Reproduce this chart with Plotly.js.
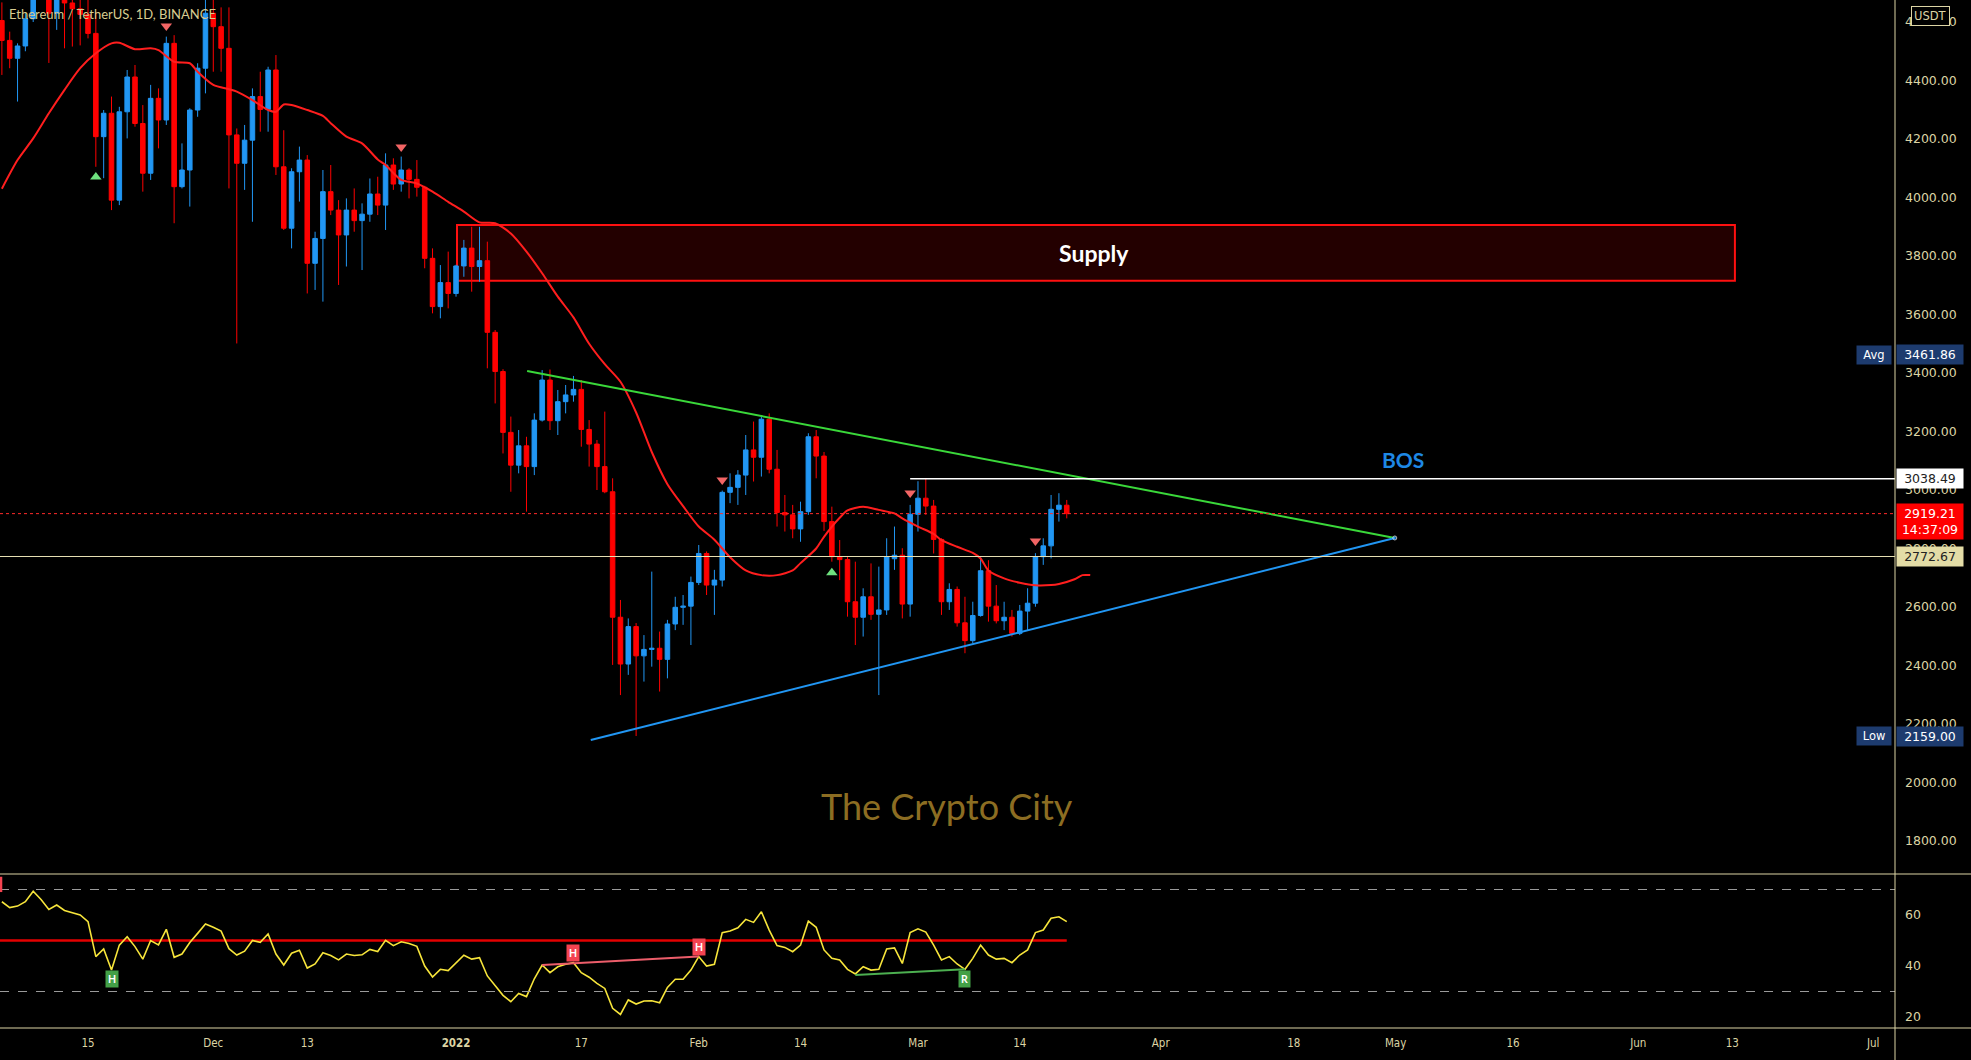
<!DOCTYPE html>
<html>
<head>
<meta charset="utf-8">
<script src="https://cdn.plot.ly/plotly-3.0.1.min.js"></script>
<style>
  html, body { margin: 0; padding: 0; background: #000; }
  #chart { width: 1971px; height: 1060px; }
</style>
</head>
<body>
<div id="chart"></div>
<script>
// ETH/USDT 日足（2021-11-04 〜 2022-03-20）
const firstDay = '2021-11-04';

const opens = [
  4605, 4537, 4476, 4518, 4611, 4807, 4730, 4630, 4723, 4665, 4645, 4626, 4561, 4208, 4288, 3991, 4293, 4412, 4253, 4083, 4339, 4265, 4527, 4037, 4094, 4299, 4442,
  4630, 4584, 4510, 4214, 4117, 4196, 4345, 4301, 4436, 4105, 3895, 4088, 4128, 3775, 3860, 4020, 3957, 3872, 3957, 3921, 3943, 4012, 3974, 4111, 4046, 4094, 4062, 4035, 3792, 3627, 3709,
  3672, 3766, 3827, 3764, 3784, 3539, 3405, 3197, 3085, 3151, 3080, 3239, 3376, 3237, 3302, 3325, 3344, 3207, 3157, 3080, 2994, 2565, 2405, 2533, 2433, 2455, 2459, 2421, 2542, 2599, 2603,
  2684, 2783, 2675, 2692, 2992, 3009, 3051, 3137, 3112, 3242, 3071, 2923, 2915, 2867, 2926, 3182, 3116, 2892, 2772, 2762, 2618, 2565, 2635, 2575, 2590, 2765, 2777, 2610,
  2917, 2972, 2945, 2831, 2618, 2660, 2546, 2485, 2571, 2724, 2603, 2553, 2565, 2510, 2586, 2613, 2772, 2809, 2934, 2948
];
const highs = [
  4667, 4567, 4527, 4630, 4823, 4838, 4868, 4778, 4811, 4704, 4690, 4772, 4633, 4299, 4345, 4310, 4436, 4453, 4316, 4385, 4373, 4550, 4555, 4185, 4305, 4459, 4778,
  4780, 4650, 4650, 4236, 4248, 4373, 4430, 4447, 4487, 4230, 4100, 4174, 4145, 3883, 4094, 4111, 3991, 3997, 4031, 3980, 4065, 4071, 4151, 4134, 4140, 4100, 4128, 4040, 3826, 3769, 3815,
  3770, 3855, 3900, 3900, 3849, 3547, 3413, 3251, 3205, 3182, 3262, 3410, 3412, 3342, 3359, 3390, 3376, 3239, 3171, 3268, 3040, 2624, 2561, 2545, 2504, 2721, 2516, 2556, 2635, 2641, 2704,
  2812, 2790, 2727, 2998, 3057, 3068, 3188, 3234, 3256, 3262, 3137, 2983, 2949, 2960, 3194, 3205, 3130, 2943, 2829, 2772, 2755, 2664, 2749, 2738, 2835, 2875, 2801, 2949,
  3030, 3038.49, 2966, 2835, 2681, 2670, 2635, 2618, 2772, 2760, 2675, 2618, 2590, 2607, 2664, 2784, 2835, 2983, 2989, 2966
];
const lows = [
  4419, 4442, 4328, 4500, 4600, 4713, 4460, 4573, 4510, 4516, 4520, 4544, 4105, 4066, 3957, 3974, 4202, 4242, 4020, 4060, 4168, 4248, 3912, 4031, 3969, 4276, 4356,
  4430, 4430, 4031, 3501, 4026, 3917, 4225, 4225, 4077, 3889, 3826, 3986, 3672, 3684, 3644, 3940, 3701, 3764, 3883, 3752, 3917, 3940, 3889, 4026, 4020, 3997, 4003, 3758, 3604, 3587, 3621,
  3661, 3729, 3678, 3712, 3416, 3296, 3125, 2994, 3057, 2926, 3051, 3234, 3205, 3188, 3262, 3302, 3148, 3080, 3000, 2989, 2402, 2299, 2368, 2159, 2345, 2396, 2311, 2356, 2521, 2539, 2470,
  2675, 2641, 2573, 2670, 2955, 2949, 2983, 3029, 3046, 3057, 2875, 2858, 2835, 2823, 2915, 3040, 2860, 2755, 2692, 2567, 2470, 2499, 2556, 2299, 2573, 2727, 2561, 2567,
  2858, 2915, 2783, 2573, 2590, 2533, 2442, 2476, 2567, 2550, 2544, 2521, 2499, 2504, 2521, 2601, 2744, 2766, 2892, 2903
];
const closes = [
  4537, 4476, 4518, 4611, 4807, 4730, 4630, 4723, 4665, 4645, 4626, 4561, 4208, 4288, 3991, 4293, 4412, 4253, 4083, 4339, 4265, 4527, 4037, 4094, 4299, 4442, 4630,
  4584, 4510, 4214, 4117, 4196, 4345, 4301, 4436, 4105, 3895, 4088, 4128, 3775, 3860, 4020, 3957, 3872, 3957, 3921, 3943, 4012, 3974, 4111, 4046, 4094, 4062, 4035, 3792, 3627, 3709, 3672,
  3766, 3827, 3764, 3784, 3539, 3405, 3197, 3085, 3151, 3080, 3239, 3376, 3237, 3302, 3325, 3344, 3207, 3157, 3080, 2994, 2565, 2405, 2533, 2433, 2455, 2459, 2421, 2542, 2599, 2603, 2684,
  2783, 2675, 2692, 2992, 3009, 3051, 3137, 3112, 3242, 3071, 2923, 2915, 2867, 2926, 3182, 3116, 2892, 2772, 2762, 2618, 2565, 2635, 2575, 2590, 2772, 2777, 2610, 2917,
  2972, 2945, 2831, 2618, 2660, 2546, 2485, 2571, 2724, 2603, 2553, 2565, 2510, 2586, 2613, 2772, 2809, 2934, 2948, 2919.21
];

// 移動平均線（チャートから読み取り）
const maDates = [
  '2021-11-04', '2021-11-06', '2021-11-08', '2021-11-10', '2021-11-12', '2021-11-14', '2021-11-16', '2021-11-18', '2021-11-19',
  '2021-11-21', '2021-11-23', '2021-11-24', '2021-11-26', '2021-11-28', '2021-11-29', '2021-12-01', '2021-12-03', '2021-12-04',
  '2021-12-06', '2021-12-08', '2021-12-09', '2021-12-10', '2021-12-11', '2021-12-13', '2021-12-15', '2021-12-16', '2021-12-18',
  '2021-12-20', '2021-12-22', '2021-12-23', '2021-12-25', '2021-12-27', '2021-12-29', '2021-12-31', '2022-01-02', '2022-01-04',
  '2022-01-06', '2022-01-08', '2022-01-10', '2022-01-12', '2022-01-14', '2022-01-16', '2022-01-18', '2022-01-20', '2022-01-22',
  '2022-01-24', '2022-01-26', '2022-01-28', '2022-01-30', '2022-02-01', '2022-02-03', '2022-02-05', '2022-02-07', '2022-02-09',
  '2022-02-11', '2022-02-13', '2022-02-14', '2022-02-16', '2022-02-17', '2022-02-19', '2022-02-20', '2022-02-22', '2022-02-24',
  '2022-02-26', '2022-02-27', '2022-03-01', '2022-03-03', '2022-03-04', '2022-03-06', '2022-03-08', '2022-03-09', '2022-03-10',
  '2022-03-12', '2022-03-14', '2022-03-16', '2022-03-18', '2022-03-19', '2022-03-21', '2022-03-22', '2022-03-23'
];
const maValues = [
  4030, 4128, 4202, 4288, 4368, 4442, 4493, 4527, 4529,
  4507, 4510, 4504, 4464, 4459, 4430, 4385, 4370, 4362,
  4333, 4299, 4293, 4318, 4316, 4299, 4279, 4254, 4208,
  4185, 4130, 4111, 4060, 4048, 4020, 3985, 3952, 3915,
  3912, 3877, 3815, 3741, 3661, 3590, 3500, 3430, 3370,
  3265, 3130, 3020, 2945, 2875, 2830, 2770, 2725, 2709,
  2709, 2725, 2750, 2800, 2840, 2905, 2930, 2943, 2932,
  2920, 2903, 2875, 2850, 2829, 2806, 2785, 2766, 2725,
  2698, 2683, 2674, 2675, 2679, 2695, 2709, 2709
];

// RSI（下段）
const rsiValues = [
  65.2, 62.9, 63.5, 65.2, 69.3, 66.1, 62.2, 63.9, 61.8, 60.9, 60.0, 57.4, 43.7, 46.7, 38.4, 48.2, 51.5, 47.6, 42.7, 50.0, 48.3, 54.4, 43.4, 44.7, 49.2, 52.8, 56.5,
  55.2, 53.7, 46.8, 44.3, 45.8, 50.0, 49.3, 52.6, 44.7, 40.4, 45.0, 46.2, 39.2, 40.8, 45.2, 44.1, 42.4, 44.7, 44.1, 44.4, 46.5, 45.7, 50.1, 48.0, 49.5, 48.8, 47.7, 40.0, 35.7, 38.7, 38.2,
  41.4, 44.2, 42.7, 43.3, 36.1, 32.4, 28.5, 26.0, 29.2, 28.0, 35.0, 40.4, 37.4, 39.7, 40.7, 41.3, 37.4, 35.6, 33.2, 31.2, 23.4, 21.0, 26.7, 25.1, 26.3, 26.4, 25.6, 31.6, 34.8, 34.8, 38.4,
  43.7, 40.0, 40.7, 53.1, 53.7, 55.0, 58.3, 57.1, 61.3, 54.1, 48.0, 47.3, 45.6, 48.2, 57.6, 55.2, 46.3, 43.0, 42.4, 38.7, 36.9, 39.7, 38.4, 38.7, 46.7, 47.1, 41.0, 53.1,
  54.6, 53.3, 48.2, 42.4, 43.7, 40.8, 38.7, 43.0, 48.2, 44.3, 42.7, 43.0, 41.3, 44.3, 46.3, 53.1, 54.1, 58.7, 59.3, 57.4
];

// シグナル三角形
const sellSignalDates = ['2021-11-25', '2021-12-25', '2022-02-04', '2022-02-28', '2022-03-16'];
const sellSignalPrices = [4586, 4173, 3034, 2990, 2826];
const buySignalDates = ['2021-11-16', '2022-02-18'];
const buySignalPrices = [4070, 2717];

// 作図（トレンドライン・ゾーン）
const triangleApex = ['2022-04-30 21:30', 2836];
const upperTrend = { dates: ['2022-01-10 02:00', triangleApex[0]], prices: [3407, triangleApex[1]] };
const lowerTrend = { dates: ['2022-01-18 05:00', triangleApex[0]], prices: [2145, triangleApex[1]] };
const supplyZone = { from: '2022-01-01 03:00', to: '2022-06-13 08:00', low: 3715, high: 3906 };
const bosLevel = { from: '2022-02-28', price: 3038.49 };
const lastPrice = 2919.21;
const avgPrice = 3461.86;
const lowPrice = 2159.00;
const hLinePrice = 2772.67;

// RSI ダイバージェンス
const bearDiv = { dates: ['2022-01-12', '2022-02-01'], values: [40.4, 43.7] };
const bullDiv = { dates: ['2022-02-21', '2022-03-07'], values: [36.5, 38.7] };

// 軸ラベル
const priceTicks = [1800, 2000, 2200, 2400, 2600, 2800, 3000, 3200, 3400, 3600, 3800, 4000, 4200, 4400, 4600];
const rsiTicks = [20, 40, 60];
const dateTickVals = ['2021-11-15', '2021-12-01', '2021-12-13', '2022-01-01', '2022-01-17', '2022-02-01', '2022-02-14', '2022-03-01',
  '2022-03-14', '2022-04-01', '2022-04-18', '2022-05-01', '2022-05-16', '2022-06-01', '2022-06-13', '2022-07-01'];
const dateTickText = ['15', 'Dec', '13', '<b>2022</b>', '17', 'Feb', '14', 'Mar', '14', 'Apr', '18', 'May', '16', 'Jun', '13', 'Jul'];

const X_RANGE = ['2021-11-03 18:14', '2022-07-03 18:43'];
const PRICE_RANGE = [1687.2, 4675.2];
const RSI_RANGE = [15.69, 76.08];
const PANE_SPLIT = 154 / 1028;

const TEXT_COLOR = '#dcd4a4';
const UP_COLOR = '#2196f3';
const DOWN_COLOR = '#ff0000';
const AXIS_FONT = 'DejaVu Sans, Verdana, sans-serif';
const AXIS_SIZE = 12.5;

function dayList(start, n) {
    const t0 = Date.parse(start + 'T00:00:00Z');
    const out = [];
    for (let i = 0; i < n; i++) {
        out.push(new Date(t0 + i * 86400000).toISOString().slice(0, 10));
    }
    return out;
}

const dates = dayList(firstDay, closes.length);

// 右軸のラベルボックス
function axisTag(text, y, bg, color) {
    return {
        xref: 'paper', x: 1, xanchor: 'left', xshift: 1,
        yref: 'y', y: y, yanchor: 'middle',
        text: text, showarrow: false, width: 62, align: 'center',
        bgcolor: bg, borderpad: 2,
        font: { family: AXIS_FONT, size: AXIS_SIZE, color: color }
    };
}

// 軸の左側に付く名前ボックス（Avg / Low）
function axisName(text, y) {
    return {
        xref: 'paper', x: 1, xanchor: 'right', xshift: -3,
        yref: 'y', y: y, yanchor: 'middle',
        text: text, showarrow: false, width: 30, align: 'center',
        bgcolor: '#1d3b6e', borderpad: 2,
        font: { family: AXIS_FONT, size: 11.5, color: '#ffffff' }
    };
}

function rsiBadge(text, date, value, bg) {
    return {
        xref: 'x', x: date, yref: 'y2', y: value,
        text: '<b>' + text + '</b>', showarrow: false,
        bgcolor: bg, borderpad: 2,
        font: { family: 'Lato, sans-serif', size: 10.5, color: '#ffffff' }
    };
}

const traces = [
    {
        type: 'candlestick',
        x: dates, open: opens, high: highs, low: lows, close: closes,
        increasing: { line: { color: UP_COLOR, width: 1 }, fillcolor: UP_COLOR },
        decreasing: { line: { color: DOWN_COLOR, width: 1 }, fillcolor: DOWN_COLOR },
        whiskerwidth: 0,
        xaxis: 'x', yaxis: 'y',
        hoverinfo: 'skip'
    },
    {
        type: 'scatter', mode: 'lines',
        x: maDates, y: maValues,
        line: { color: '#ff1e1e', width: 2, shape: 'spline', smoothing: 0.7 },
        xaxis: 'x', yaxis: 'y', hoverinfo: 'skip'
    },
    {
        type: 'scatter', mode: 'lines',
        x: upperTrend.dates, y: upperTrend.prices,
        line: { color: '#3ad83a', width: 2 },
        xaxis: 'x', yaxis: 'y', hoverinfo: 'skip'
    },
    {
        type: 'scatter', mode: 'lines+markers',
        x: lowerTrend.dates, y: lowerTrend.prices,
        line: { color: UP_COLOR, width: 2 },
        marker: { size: [0, 4], color: UP_COLOR },
        xaxis: 'x', yaxis: 'y', hoverinfo: 'skip'
    },
    {
        type: 'scatter', mode: 'markers',
        x: sellSignalDates, y: sellSignalPrices,
        marker: { symbol: 'triangle-down', size: 10, color: '#f26565' },
        xaxis: 'x', yaxis: 'y', hoverinfo: 'skip'
    },
    {
        type: 'scatter', mode: 'markers',
        x: buySignalDates, y: buySignalPrices,
        marker: { symbol: 'triangle-up', size: 10, color: '#6ee07e' },
        xaxis: 'x', yaxis: 'y', hoverinfo: 'skip'
    },
    {
        type: 'scatter', mode: 'lines',
        x: dates, y: rsiValues,
        line: { color: '#f7e53b', width: 1.6 },
        xaxis: 'x', yaxis: 'y2', hoverinfo: 'skip'
    },
    {
        type: 'scatter', mode: 'lines',
        x: bearDiv.dates, y: bearDiv.values,
        line: { color: '#ec5d6a', width: 2 },
        xaxis: 'x', yaxis: 'y2', hoverinfo: 'skip'
    },
    {
        type: 'scatter', mode: 'lines',
        x: bullDiv.dates, y: bullDiv.values,
        line: { color: '#4caf50', width: 2 },
        xaxis: 'x', yaxis: 'y2', hoverinfo: 'skip'
    }
];

const shapes = [
    // Supply ゾーン
    {
        type: 'rect', xref: 'x', yref: 'y', layer: 'below',
        x0: supplyZone.from, x1: supplyZone.to, y0: supplyZone.low, y1: supplyZone.high,
        fillcolor: '#230000', line: { color: '#ff1010', width: 2 }
    },
    // BOS ライン
    {
        type: 'line', xref: 'x', yref: 'y', x0: bosLevel.from, x1: X_RANGE[1],
        y0: bosLevel.price, y1: bosLevel.price, line: { color: '#ffffff', width: 1.5 }
    },
    // 水平線
    {
        type: 'line', xref: 'paper', yref: 'y', x0: 0, x1: 1,
        y0: hLinePrice, y1: hLinePrice, line: { color: '#e6dfb2', width: 1 }
    },
    // 現在値
    {
        type: 'line', xref: 'paper', yref: 'y', x0: 0, x1: 1,
        y0: lastPrice, y1: lastPrice, line: { color: '#ff2a2a', width: 1, dash: 'dot' }
    },
    // RSI レベル
    {
        type: 'line', xref: 'paper', yref: 'y2', x0: 0, x1: 1, y0: 70, y1: 70,
        line: { color: '#9a9a9a', width: 1, dash: 'dash' }
    },
    {
        type: 'line', xref: 'paper', yref: 'y2', x0: 0, x1: 1, y0: 30, y1: 30,
        line: { color: '#9a9a9a', width: 1, dash: 'dash' }
    },
    {
        type: 'line', xref: 'x', yref: 'y2', x0: X_RANGE[0], x1: dates[dates.length - 1], y0: 50, y1: 50,
        line: { color: '#e30000', width: 2.5 }, layer: 'below'
    },
    // ペイン区切り・右軸
    {
        type: 'line', xref: 'paper', yref: 'paper', x0: 0, x1: 1971 / 1895,
        y0: PANE_SPLIT, y1: PANE_SPLIT, line: { color: TEXT_COLOR, width: 1 }
    },
    {
        type: 'line', xref: 'paper', yref: 'paper', x0: 0, x1: 1971 / 1895,
        y0: 0, y1: 0, line: { color: TEXT_COLOR, width: 1 }
    },
    {
        type: 'line', xref: 'paper', yref: 'paper', x0: 1, x1: 1,
        y0: -32 / 1028, y1: 1, line: { color: TEXT_COLOR, width: 1 }
    },
    // 左端で切れた RSI ラベル
    {
        type: 'rect', xref: 'paper', yref: 'y2', x0: 0, x1: 0.0012, y0: 69, y1: 75,
        fillcolor: '#f44350', line: { width: 0 }
    }
];

const annotations = [
    {
        xref: 'paper', yref: 'paper', x: 0, y: 1, xanchor: 'left', yanchor: 'top',
        xshift: 7, yshift: -4, showarrow: false,
        text: 'Ethereum / TetherUS, 1D, BINANCE',
        font: { family: 'Lato, Open Sans, sans-serif', size: 13, color: '#d8cc90' }
    },
    {
        xref: 'x', yref: 'y', x: '2022-03-23 12:00', y: 3810, showarrow: false,
        text: '<b>Supply</b>',
        font: { family: 'Lato, sans-serif', size: 23, color: '#ffffff' }
    },
    {
        xref: 'x', yref: 'y', x: '2022-05-01 21:30', y: 3106, showarrow: false,
        text: '<b>BOS</b>',
        font: { family: 'Lato, sans-serif', size: 21, color: '#1e88e5' }
    },
    {
        xref: 'x', yref: 'y', x: '2022-03-04 17:00', y: 1920, showarrow: false,
        text: 'The Crypto City',
        font: { family: 'Lato, sans-serif', size: 36, color: '#8c6d22' }
    },
    // 右軸タグ
    axisName('Avg', avgPrice),
    axisTag(avgPrice.toFixed(2), avgPrice, '#1d3b6e', '#ffffff'),
    axisName('Low', lowPrice),
    axisTag(lowPrice.toFixed(2), lowPrice, '#1d3b6e', '#ffffff'),
    axisTag(bosLevel.price.toFixed(2), bosLevel.price, '#ffffff', '#222222'),
    Object.assign(axisTag(lastPrice.toFixed(2) + '<br>14:37:09', lastPrice, '#ff0000', '#ffffff'),
        { yanchor: 'top', yshift: 11 }),
    axisTag(hLinePrice.toFixed(2), hLinePrice, '#e3dca6', '#222222'),
    {
        xref: 'paper', x: 1, xanchor: 'left', xshift: 16,
        yref: 'paper', y: 1, yanchor: 'top', yshift: -6,
        text: 'USDT', showarrow: false,
        bgcolor: '#000000', bordercolor: TEXT_COLOR, borderwidth: 1, borderpad: 2,
        font: { family: AXIS_FONT, size: 11.5, color: TEXT_COLOR }
    },
    // RSI ラベル
    rsiBadge('H', '2021-11-18', 34.9, '#43a047'),
    rsiBadge('H', '2022-01-16', 45.2, '#f44350'),
    rsiBadge('H', '2022-02-01', 47.5, '#f44350'),
    rsiBadge('R', '2022-03-07', 34.9, '#43a047')
];

const layout = {
    width: 1971, height: 1060,
    paper_bgcolor: '#000000', plot_bgcolor: '#000000',
    margin: { l: 0, r: 76, t: 0, b: 32 },
    showlegend: false,
    boxgap: 0.42, boxgroupgap: 0,
    xaxis: {
        type: 'date', range: X_RANGE, anchor: 'y2',
        rangeslider: { visible: false },
        showgrid: false, zeroline: false, showline: false, ticks: '',
        tickmode: 'array', tickvals: dateTickVals, ticktext: dateTickText,
        ticklabelstandoff: 6,
        tickfont: { family: 'DejaVu Sans Condensed, Liberation Sans Narrow, DejaVu Sans, sans-serif', size: 11.5, color: TEXT_COLOR }
    },
    yaxis: {
        domain: [PANE_SPLIT, 1], range: PRICE_RANGE, side: 'right',
        showgrid: false, zeroline: false, showline: false, ticks: '',
        tickmode: 'array', tickvals: priceTicks, ticktext: priceTicks.map(v => v.toFixed(2)),
        ticklabelstandoff: 9,
        tickfont: { family: AXIS_FONT, size: AXIS_SIZE, color: TEXT_COLOR }
    },
    yaxis2: {
        domain: [0, PANE_SPLIT], range: RSI_RANGE, side: 'right',
        showgrid: false, zeroline: false, showline: false, ticks: '',
        tickmode: 'array', tickvals: rsiTicks, ticktext: rsiTicks.map(String),
        ticklabelstandoff: 9,
        tickfont: { family: AXIS_FONT, size: AXIS_SIZE, color: TEXT_COLOR }
    },
    shapes: shapes,
    annotations: annotations
};

Plotly.newPlot('chart', traces, layout, { staticPlot: true, displayModeBar: false });
</script>
</body>
</html>
